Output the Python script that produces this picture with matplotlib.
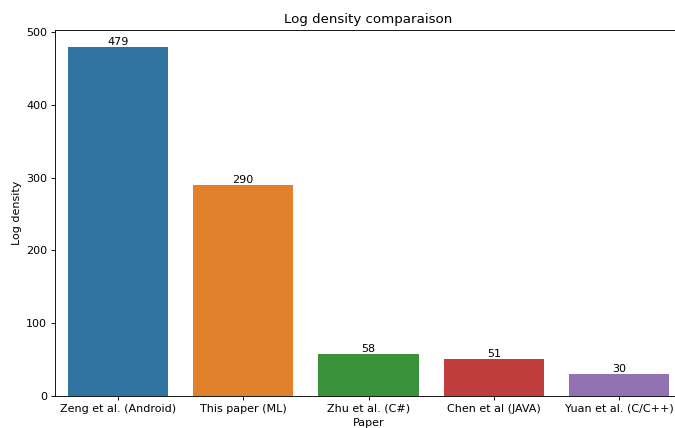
import matplotlib
matplotlib.use("Agg")
import matplotlib.pyplot as plt
import seaborn as sns
import pandas as pd

papers = ["Zeng et al. (Android)", "This paper (ML)", "Zhu et al. (C#)",
          "Chen et al (JAVA)", "Yuan et al. (C/C++)"]
log_density = [479, 290, 58, 51, 30]

df = pd.DataFrame({"Paper": papers, "Log density": log_density})

DPI = 80
fig = plt.figure(figsize=(675 / DPI, 428 / DPI), dpi=DPI)
# axes runs past the right/bottom edge like the cropped original
ax = fig.add_axes([55 / 675, 32 / 428, 627 / 675, 366 / 428])

sns.barplot(data=df, x="Paper", y="Log density", hue="Paper", legend=False, ax=ax)
for c in ax.containers:
    ax.bar_label(c, fontsize=10)

ax.set_title("Log density comparaison", fontsize=12)
ax.set_xlabel("Paper", fontsize=10)
ax.set_ylabel("Log density", fontsize=10)
ax.tick_params(labelsize=10)

fig.savefig("out.png", dpi=DPI)
